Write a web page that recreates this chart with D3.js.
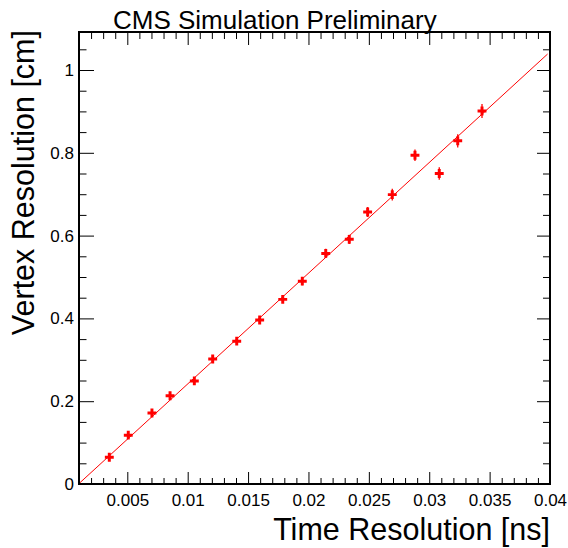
<!DOCTYPE html>
<html>
<head>
<meta charset="utf-8">
<script src="https://cdn.jsdelivr.net/npm/d3@7"></script>
<style>
  html, body { margin: 0; padding: 0; background: #fff; }
  svg { display: block; font-family: "Liberation Sans", Arial, Helvetica, sans-serif; }
</style>
</head>
<body>
<svg id="chart" width="568" height="548"></svg>
<script>
// ---- data ----
const timeRes = [0.00351, 0.00508, 0.00704, 0.00854, 0.01055, 0.01207, 0.01406, 0.01596, 0.01787,
                 0.01949, 0.02143, 0.02338, 0.0249, 0.02694, 0.02882, 0.03083, 0.03236, 0.03437];
const vertexRes = [0.0645, 0.118, 0.1715, 0.213, 0.249, 0.302, 0.345, 0.396, 0.446,
                   0.490, 0.557, 0.591, 0.657, 0.699, 0.794, 0.750, 0.829, 0.901];
const vertexErr = [0.006, 0.006, 0.007, 0.007, 0.008, 0.008, 0.008, 0.009, 0.009,
                   0.010, 0.011, 0.011, 0.012, 0.014, 0.014, 0.015, 0.016, 0.017];
const fitSlope = 26.74;
const fitIntercept = -0.0257;
const fitRange = [0.001, 0.0398];
const xTickValues = [0.005, 0.01, 0.015, 0.02, 0.025, 0.03, 0.035, 0.04];
const xTickLabels = ["0.005", "0.01", "0.015", "0.02", "0.025", "0.03", "0.035", "0.04"];
const yTickValues = [0, 0.2, 0.4, 0.6, 0.8, 1];
const yTickLabels = ["0", "0.2", "0.4", "0.6", "0.8", "1"];
const titleText = "CMS Simulation Preliminary";
const xTitle = "Time Resolution [ns]";
const yTitle = "Vertex Resolution [cm]";

// ---- layout ----
const L = 79, R = 550, T = 32, B = 484;
const x = d3.scaleLinear().domain([0.001, 0.04]).range([L, R]);
const y = d3.scaleLinear().domain([0, 1.0918]).range([B, T]);

const svg = d3.select("#chart");

// minor tick values
const xMinor = d3.range(1, 41).map(i => i / 1000).filter(v => !xTickValues.some(t => Math.abs(t - v) < 1e-9));
const yMinor = d3.range(0, 22).map(i => i * 0.05).filter(v => v <= 1.0918 && !yTickValues.some(t => Math.abs(t - v) < 1e-9));

function styleAxis(g) {
  g.select(".domain").remove();
  g.selectAll(".tick line").attr("stroke", "#000").attr("stroke-width", 1);
  g.selectAll("text").attr("fill", "#000").style("font-size", "17px")
    .style("font-family", '"Liberation Sans", Arial, Helvetica, sans-serif');
}

// bottom axis (major with labels)
svg.append("g").attr("transform", `translate(0,${B})`)
  .call(d3.axisBottom(x).tickValues(xTickValues).tickSize(-12).tickPadding(9.5)
    .tickFormat((d, i) => xTickLabels[i]))
  .call(styleAxis);
svg.append("g").attr("transform", `translate(0,${B})`)
  .call(d3.axisBottom(x).tickValues(xMinor).tickSize(-6).tickFormat(""))
  .call(styleAxis);
// top axis
svg.append("g").attr("transform", `translate(0,${T})`)
  .call(d3.axisTop(x).tickValues(xTickValues).tickSize(-13).tickFormat(""))
  .call(styleAxis);
svg.append("g").attr("transform", `translate(0,${T})`)
  .call(d3.axisTop(x).tickValues(xMinor).tickSize(-7).tickFormat(""))
  .call(styleAxis);
// left axis
svg.append("g").attr("transform", `translate(${L},0)`)
  .call(d3.axisLeft(y).tickValues(yTickValues).tickSize(-15).tickPadding(5)
    .tickFormat((d, i) => yTickLabels[i]))
  .call(styleAxis);
svg.append("g").attr("transform", `translate(${L},0)`)
  .call(d3.axisLeft(y).tickValues(yMinor).tickSize(-7.5).tickFormat(""))
  .call(styleAxis);
// right axis
svg.append("g").attr("transform", `translate(${R},0)`)
  .call(d3.axisRight(y).tickValues(yTickValues).tickSize(-13).tickFormat(""))
  .call(styleAxis);
svg.append("g").attr("transform", `translate(${R},0)`)
  .call(d3.axisRight(y).tickValues(yMinor).tickSize(-7).tickFormat(""))
  .call(styleAxis);

// clip
svg.append("clipPath").attr("id", "clip").append("rect")
  .attr("x", L).attr("y", T).attr("width", R - L).attr("height", B - T);

const plot = svg.append("g").attr("clip-path", "url(#clip)");

// fit line
const fitPts = fitRange.map(v => [v, fitSlope * v + fitIntercept]);
plot.append("path")
  .attr("d", d3.line().x(d => x(d[0])).y(d => y(d[1]))(fitPts))
  .attr("fill", "none").attr("stroke", "#ff0000").attr("stroke-width", 1);

// error bars
const pts = timeRes.map((t, i) => ({ t, v: vertexRes[i], e: vertexErr[i] }));
plot.selectAll("line.err").data(pts).enter().append("line")
  .attr("class", "err")
  .attr("x1", d => x(d.t)).attr("x2", d => x(d.t))
  .attr("y1", d => y(d.v - d.e)).attr("y2", d => y(d.v + d.e))
  .attr("stroke", "#ff0000").attr("stroke-width", 1.3);

// markers (filled cross)
plot.selectAll("path.mk").data(pts).enter().append("path")
  .attr("class", "mk")
  .attr("transform", d => `translate(${x(d.t)},${y(d.v)})`)
  .attr("d", d3.symbol(d3.symbolCross, 44)())
  .attr("fill", "#ff0000");

// frame
svg.append("rect").attr("x", L).attr("y", T).attr("width", R - L).attr("height", B - T)
  .attr("fill", "none").attr("stroke", "#000").attr("stroke-width", 2);

// titles
svg.append("text").attr("x", 113).attr("y", 29).attr("text-anchor", "start")
  .style("font-size", "26px").attr("fill", "#000").text(titleText);
svg.append("text").attr("x", R).attr("y", 540).attr("text-anchor", "end")
  .style("font-size", "30.5px").attr("fill", "#000").text(xTitle);
svg.append("text").attr("transform", `translate(33.5,${T - 2}) rotate(-90)`).attr("text-anchor", "end")
  .style("font-size", "30.5px").attr("fill", "#000").text(yTitle);
</script>
</body>
</html>
